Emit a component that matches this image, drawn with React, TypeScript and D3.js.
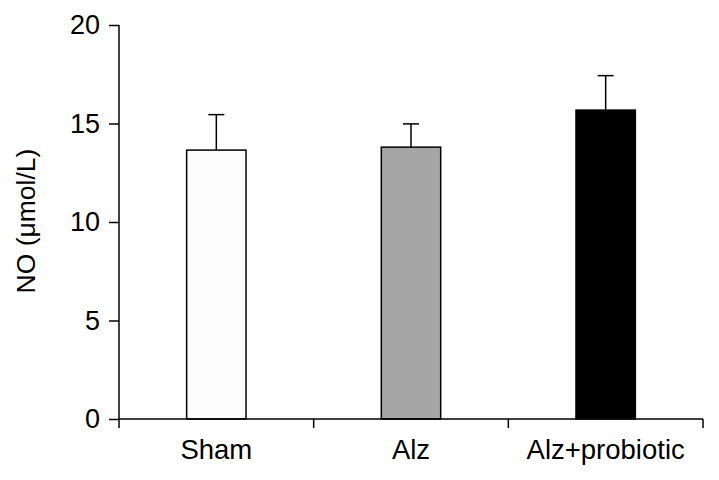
import React, { useRef, useEffect } from 'react'
import * as d3 from 'd3'

const groups = ['Sham', 'Alz', 'Alz+probiotic']
const means = [13.65, 13.8, 15.68]
const errors = [1.8, 1.18, 1.75]
const fills = ['#fdfdfd', '#a6a6a6', '#000000']
const yTicks = [0, 5, 10, 15, 20]

export default function App() {
  const svgRef = useRef<SVGSVGElement | null>(null)
  const width = 719
  const height = 480

  useEffect(() => {
    if (!svgRef.current) return
    const svg = d3.select(svgRef.current)
    svg.selectAll('*').remove()

    const margin = { t: 25, r: 16, b: 61, l: 119 }
    const innerW = width - margin.l - margin.r
    const innerH = height - margin.t - margin.b
    const font = 'Liberation Sans, Arial, sans-serif'

    const x = d3.scaleBand().domain(groups).range([0, innerW]).paddingInner(0).paddingOuter(0)
    const y = d3.scaleLinear().domain([0, 20]).range([innerH, 0])
    const barW = x.bandwidth() * 0.305
    const capW = 16

    const g = svg.append('g').attr('transform', `translate(${margin.l},${margin.t})`)

    const data = groups.map((name, i) => ({ name, mean: means[i], err: errors[i], fill: fills[i] }))

    // error bars (upper only)
    g.selectAll('line.err')
      .data(data)
      .enter()
      .append('line')
      .attr('x1', d => x(d.name)! + x.bandwidth() / 2)
      .attr('x2', d => x(d.name)! + x.bandwidth() / 2)
      .attr('y1', d => y(d.mean))
      .attr('y2', d => y(d.mean + d.err))
      .attr('stroke', '#000')
      .attr('stroke-width', 1.5)

    g.selectAll('line.cap')
      .data(data)
      .enter()
      .append('line')
      .attr('x1', d => x(d.name)! + x.bandwidth() / 2 - capW / 2)
      .attr('x2', d => x(d.name)! + x.bandwidth() / 2 + capW / 2)
      .attr('y1', d => y(d.mean + d.err))
      .attr('y2', d => y(d.mean + d.err))
      .attr('stroke', '#000')
      .attr('stroke-width', 1.5)

    g.selectAll('rect')
      .data(data)
      .enter()
      .append('rect')
      .attr('x', d => x(d.name)! + (x.bandwidth() - barW) / 2)
      .attr('y', d => y(d.mean))
      .attr('width', barW)
      .attr('height', d => innerH - y(d.mean))
      .attr('fill', d => d.fill)
      .attr('stroke', '#000')
      .attr('stroke-width', 1.5)

    // y axis
    const yAxis = g.append('g')
      .call(d3.axisLeft(y).tickValues(yTicks).tickSize(10).tickPadding(9).tickSizeOuter(0))
    yAxis.selectAll('path,line').attr('stroke', '#000').attr('stroke-width', 1.5)
    yAxis.select('path').attr('d', `M0,${innerH + 9}V0`)
    yAxis.selectAll('text')
      .attr('font-size', 27)
      .attr('font-family', font)
      .attr('fill', '#000')

    // x axis with ticks at band edges
    const xAxisG = g.append('g').attr('transform', `translate(0,${innerH})`)
    xAxisG.append('line')
      .attr('x1', 0).attr('x2', innerW)
      .attr('stroke', '#000').attr('stroke-width', 1.5)
    const edges = groups.map(d => x(d)! + x.bandwidth())
    xAxisG.selectAll('line.tick')
      .data(edges)
      .enter()
      .append('line')
      .attr('x1', d => d).attr('x2', d => d)
      .attr('y1', 0).attr('y2', 9)
      .attr('stroke', '#000').attr('stroke-width', 1.5)
    xAxisG.selectAll('text')
      .data(groups)
      .enter()
      .append('text')
      .attr('x', d => x(d)! + x.bandwidth() / 2)
      .attr('y', 40)
      .attr('text-anchor', 'middle')
      .attr('font-size', 27.5)
      .attr('font-family', font)
      .attr('fill', '#000')
      .text(d => d)

    svg.append('text')
      .attr('transform', `translate(35,221) rotate(-90)`)
      .attr('text-anchor', 'middle')
      .attr('font-size', 26.5)
      .attr('font-family', font)
      .attr('fill', '#000')
      .text('NO (\u03BCmol/L)')
  }, [])

  return (
    <svg ref={svgRef} width={width} height={height}
      style={{ position: 'absolute', left: 0, top: 0, background: '#fff' }} />
  )
}
